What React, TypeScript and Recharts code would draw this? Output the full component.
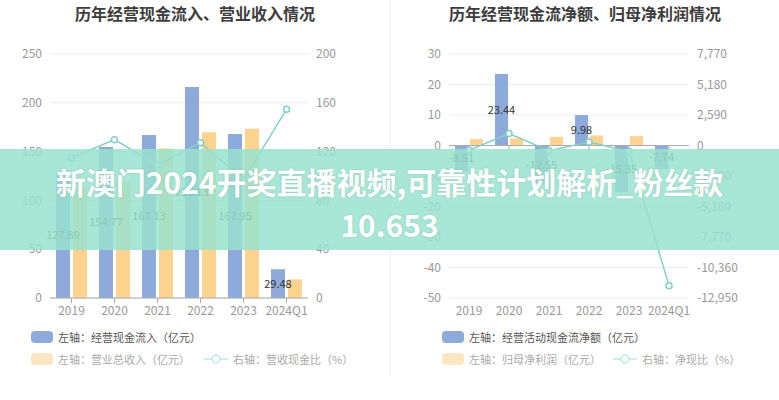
import React from 'react';
import {
  ComposedChart, Bar, Line, XAxis, YAxis, CartesianGrid, LabelList, ReferenceLine, ReferenceDot
} from 'recharts';

// values
const years = ['2019', '2020', '2021', '2022', '2023', '2024Q1'];
const cashInflow = [127.89, 154.77, 167.13, 216.13, 167.95, 29.48];
const revenue = [111.4, 119.2, 153.3, 169.8, 173.5, 19.1];
const inflowRatio = [114.8, 129.8, 109.0, 127.3, 96.8, 154.7];
const netCashFlow = [-8.51, 23.44, -12.55, 9.98, -15.35, -7.74];
const netProfit = [2.1, 2.3, 2.85, 3.3, 3.05, 0.07];
const netCashRatio = [-405, 1019, -440, 302, -503, -11900];

const leftTicks = [0, 50, 100, 150, 200, 250];
const leftRightTicks = [0, 40, 80, 120, 160, 200];
const rightTicks = [-50, -40, -30, -20, -10, 0, 10, 20, 30];
const rightRightTicks = [-12950, -10360, -7770, -5180, -2590, 0, 2590, 5180, 7770];

const inflowData = years.map((y, i) => ({ year: y, inflow: cashInflow[i], revenue: revenue[i], ratio: inflowRatio[i] }));
const netData = years.map((y, i) => ({ year: y, net: netCashFlow[i], profit: netProfit[i], ratio: netCashRatio[i] }));

const BLUE = '#8eaadb';
const ORANGE = '#fdd38f';
const TEAL = '#84d0c7';
const FONT = '"Noto Sans CJK SC", "Noto Sans", sans-serif';
const tick = { fill: '#999', fontSize: 12 };
const fmt = (v: number) => v.toLocaleString('en-US');

const Swatch = ({ color }: { color: string }) => (
  <span style={{ display: 'inline-block', width: 22, height: 12, borderRadius: 4, background: color, marginRight: 5 }} />
);

const LineIcon = ({ color }: { color: string }) => (
  <svg width={24} height={12} style={{ marginRight: 5 }}>
    <line x1={0} y1={6} x2={24} y2={6} stroke={color} strokeWidth={1.5} />
    <circle cx={12} cy={6} r={4} fill="#fff" stroke={color} strokeWidth={1.5} />
  </svg>
);

const LegendBlock = ({ left, gap, first, second, third }: { left: number; gap: number; first: string; second: string; third: string }) => (
  <div style={{ position: 'absolute', left, top: 330, fontSize: 11, fontFamily: FONT }}>
    <div style={{ display: 'flex', alignItems: 'center', height: 14, color: '#555' }}>
      <Swatch color={BLUE} />{first}
    </div>
    <div style={{ display: 'flex', alignItems: 'center', height: 14, marginTop: 8, color: '#aaa' }}>
      <Swatch color="#fde5c2" />{second}
      <span style={{ width: gap }} />
      <LineIcon color="#bfe9e3" />{third}
    </div>
  </div>
);

const Title = ({ left, text }: { left: number; text: string }) => (
  <div style={{
    position: 'absolute', left, top: 2, width: 390, textAlign: 'center', fontSize: 16,
    fontWeight: 700, color: '#3d3d3d', fontFamily: FONT, lineHeight: '22px'
  }}>{text}</div>
);

const ZeroTick = (p: any) => <line x1={p.cx} x2={p.cx} y1={p.cy} y2={p.cy + 5} stroke="#aaa" />;

const bannerText: React.CSSProperties = {
  position: 'absolute', left: 0, width: 779, textAlign: 'center', color: '#fff',
  fontSize: 30, fontWeight: 700, lineHeight: '40px', textShadow: '0 0 2px rgba(0,0,0,0.15)'
};

export default function App() {
  return (
    <div style={{ position: 'absolute', left: 0, top: 0, width: 779, height: 400, background: '#fff', fontFamily: FONT, overflow: 'hidden' }}>
      <Title left={0} text="历年经营现金流入、营业收入情况" />
      <Title left={390} text="历年经营现金流净额、归母净利润情况" />

      <div style={{ position: 'absolute', left: 0, top: 0 }}>
        <ComposedChart width={390} height={330} data={inflowData} margin={{ top: 54, right: 0, bottom: 2, left: 0 }} barGap={3}>
          <CartesianGrid yAxisId="left" vertical={false} stroke="#e8ecf2" />
          <XAxis dataKey="year" height={30} tick={tick} axisLine={{ stroke: '#aaa' }} tickLine={{ stroke: '#aaa' }} tickSize={5} tickMargin={3} interval={0} />
          <YAxis yAxisId="left" width={50} domain={[0, 250]} ticks={leftTicks} tick={tick} axisLine={false} tickLine={false} />
          <YAxis yAxisId="right" orientation="right" width={82} domain={[0, 200]} ticks={leftRightTicks} tick={tick} axisLine={false} tickLine={false} />
          <Bar yAxisId="left" dataKey="inflow" fill={BLUE} barSize={14} isAnimationActive={false}>
            <LabelList dataKey="inflow" position="inside" fill="#333" fontSize={11} />
          </Bar>
          <Bar yAxisId="left" dataKey="revenue" fill={ORANGE} barSize={14} isAnimationActive={false} />
          <Line yAxisId="right" dataKey="ratio" type="linear" stroke={TEAL} strokeWidth={1.5}
            dot={{ r: 3, fill: '#fff', stroke: TEAL, strokeWidth: 1.5 }} isAnimationActive={false} />
        </ComposedChart>
      </div>

      <div style={{ position: 'absolute', left: 389, top: 0 }}>
        <ComposedChart width={390} height={330} data={netData} margin={{ top: 54, right: 0, bottom: 2, left: 0 }} barGap={2}>
          <CartesianGrid yAxisId="left" vertical={false} stroke="#e8ecf2" />
          <XAxis dataKey="year" height={30} tick={tick} axisLine={false} tickLine={false} tickSize={5} tickMargin={3} interval={0} />
          <YAxis yAxisId="left" width={60} domain={[-50, 30]} ticks={rightTicks} tick={tick} axisLine={false} tickLine={false} />
          <YAxis yAxisId="right" orientation="right" width={90} domain={[-12950, 7770]} ticks={rightRightTicks} tickFormatter={fmt} tick={tick} axisLine={false} tickLine={false} />
          <ReferenceLine yAxisId="left" y={0} stroke="#aaa" />
          {years.map(y => (
            <ReferenceDot key={y} yAxisId="left" x={y} y={0} r={0} shape={ZeroTick} />
          ))}
          <Bar yAxisId="left" dataKey="net" fill={BLUE} barSize={13} isAnimationActive={false}>
            <LabelList dataKey="net" position="inside" fill="#333" fontSize={11} />
          </Bar>
          <Bar yAxisId="left" dataKey="profit" fill={ORANGE} barSize={13} isAnimationActive={false} />
          <Line yAxisId="right" dataKey="ratio" type="linear" stroke={TEAL} strokeWidth={1.5}
            dot={{ r: 3, fill: '#fff', stroke: TEAL, strokeWidth: 1.5 }} isAnimationActive={false} />
        </ComposedChart>
      </div>

      <div style={{ position: 'absolute', left: 390, top: 0, width: 1, height: 376, background: '#eee' }} />

      <LegendBlock left={31} gap={14} first="左轴：经营现金流入（亿元）" second="左轴：营业总收入（亿元）" third="右轴：营收现金比（%）" />
      <LegendBlock left={442} gap={12} first="左轴：经营活动现金流净额（亿元）" second="左轴：归母净利润（亿元）" third="右轴：净现比（%）" />

      <div style={{ position: 'absolute', left: 0, top: 149, width: 779, height: 101, background: 'rgba(153,226,207,0.85)' }}>
        <div style={{ ...bannerText, top: 12 }}>新澳门2024开奖直播视频,可靠性计划解析_粉丝款</div>
        <div style={{ ...bannerText, top: 55 }}>10.653</div>
      </div>
    </div>
  );
}
